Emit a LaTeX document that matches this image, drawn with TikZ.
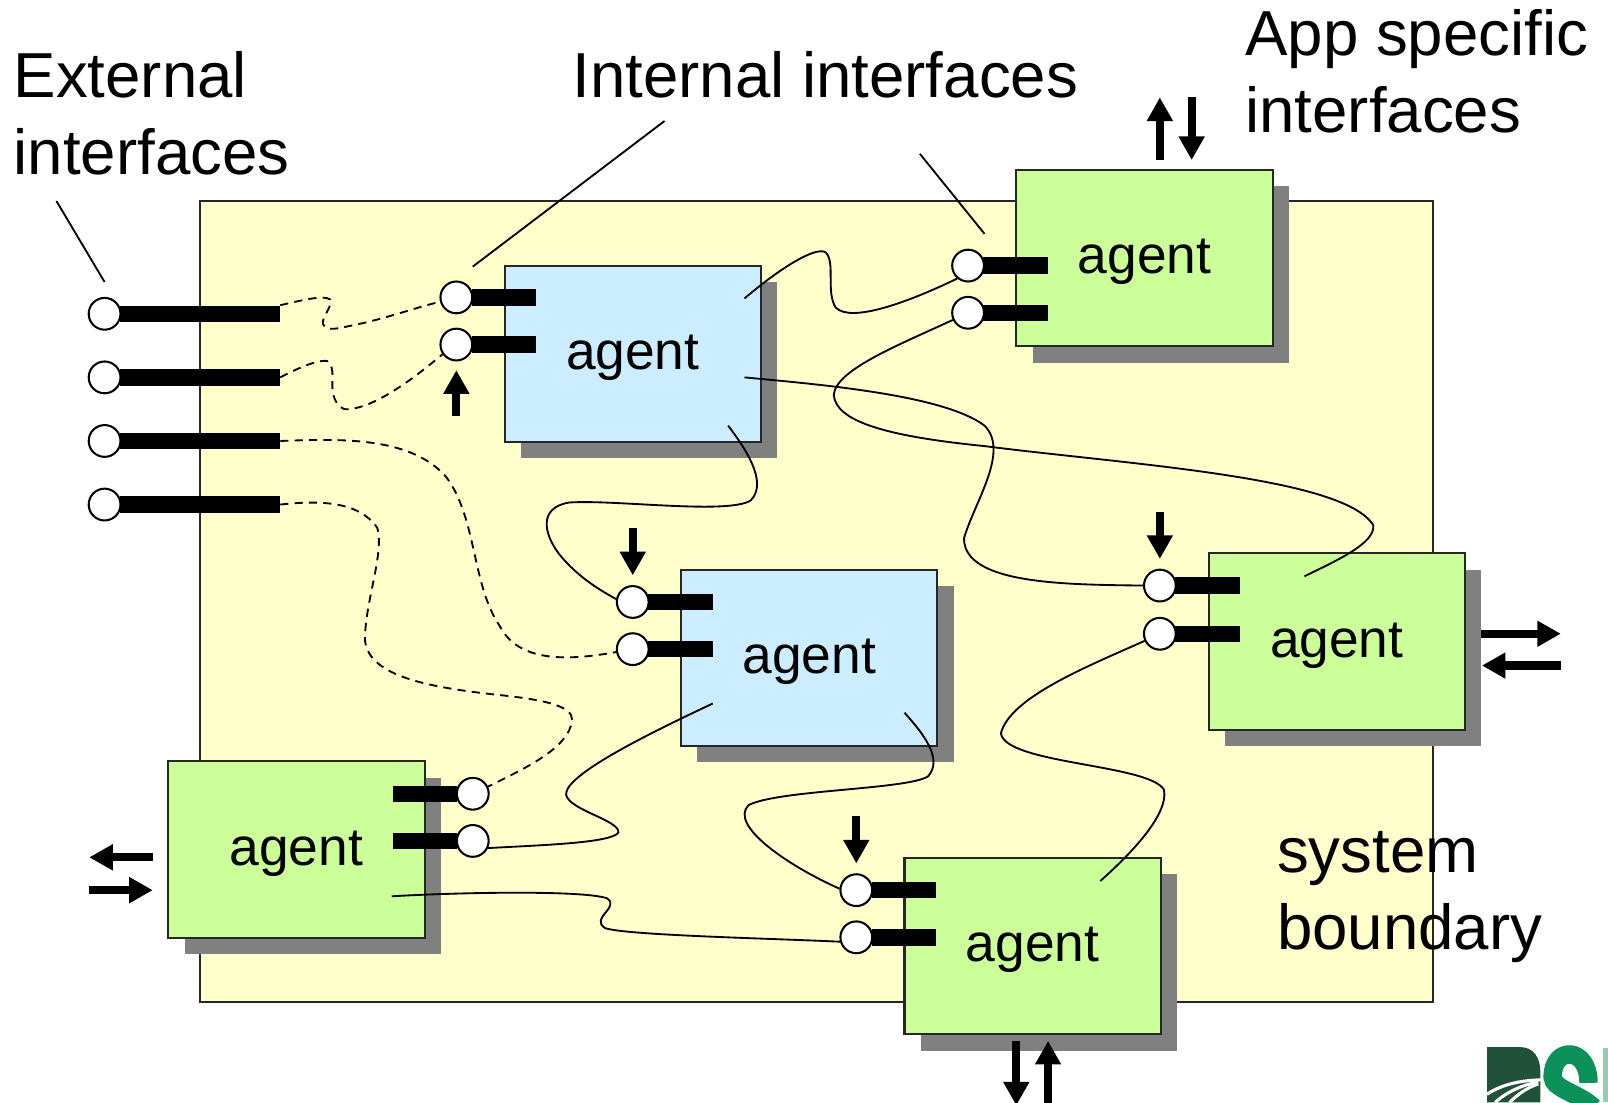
\documentclass[tikz,border=0pt]{standalone}
\usepackage{fontspec}
\setmainfont{Liberation Sans}
\usepackage{xcolor}
\usetikzlibrary{positioning,arrows.meta,shadows}
\definecolor{boundaryfill}{HTML}{FFFFCC}
\definecolor{bluefill}{HTML}{CCECFF}
\definecolor{greenfill}{HTML}{CCFF99}
\definecolor{shadowgray}{HTML}{808080}
\definecolor{logodark}{HTML}{215239}
\definecolor{logogreen}{HTML}{0B9159}
\tikzset{
	agentbox/.style={draw=black!85,line width=1pt,minimum width=125pt,minimum height=86pt,inner sep=0pt,text height=21pt,text depth=5.5pt,font=\fontsize{26}{30}\selectfont,general shadow={fill=shadowgray,shadow xshift=8pt,shadow yshift=-8pt}},
	bluebox/.style={agentbox,fill=bluefill},
	greenbox/.style={agentbox,fill=greenfill},
	port/.style={circle,draw=black,fill=white,line width=1pt,minimum size=15.5pt,inner sep=0pt},
	stub/.style={fill=black,minimum height=8pt,minimum width=31.5pt,inner sep=0pt},
	longstub/.style={stub,minimum width=78pt},
	wire/.style={draw=black,line width=0.9pt},
	extwire/.style={wire,dashed,dash pattern=on 4pt off 3pt},
	flow/.style={draw=black,line width=4pt,-{Triangle[length=11.5pt,width=12pt]}},
	caption/.style={font=\fontsize{31}{37.5}\selectfont,align=left,inner sep=0pt,anchor=north west}
}
\begin{document}
\begin{tikzpicture}[x=0.5pt,y=-0.5pt]
	\useasboundingbox (0,0) rectangle (1568,1075);
	\node[draw=black!85,fill=boundaryfill,line width=1pt,minimum width=601pt,minimum height=390.5pt,inner sep=0pt] (system) at (796,586.5) {};

	\node[bluebox] (agentA) at (617,345) {agent};
	\node[bluebox] (agentB) at (789,641.5) {agent};
	\node[greenbox] (agentC) at (1116,251.5) {agent};
	\node[greenbox] (agentD) at (1303.5,625.5) {agent};
	\node[greenbox] (agentE) at (1007,922.5) {agent};
	\node[greenbox] (agentF) at (289,828.5) {agent};

	\node[port] (ext1) at (102,306) {};
	\node[port] (ext2) at (102,368) {};
	\node[port] (ext3) at (102,430) {};
	\node[port] (ext4) at (102,492) {};
	\node[longstub,right=-1pt of ext1] (ext1s) {};
	\node[longstub,right=-1pt of ext2] (ext2s) {};
	\node[longstub,right=-1pt of ext3] (ext3s) {};
	\node[longstub,right=-1pt of ext4] (ext4s) {};

	\node[port] (a1) at (445,290) {};
	\node[port] (a2) at (445,336) {};
	\node[stub,right=-1pt of a1] (a1s) {};
	\node[stub,right=-1pt of a2] (a2s) {};
	\node[port] (b1) at (617,587) {};
	\node[port] (b2) at (617,633) {};
	\node[stub,right=-1pt of b1] (b1s) {};
	\node[stub,right=-1pt of b2] (b2s) {};
	\node[port] (c1) at (944,259) {};
	\node[port] (c2) at (944,305) {};
	\node[stub,right=-1pt of c1] (c1s) {};
	\node[stub,right=-1pt of c2] (c2s) {};
	\node[port] (d1) at (1131,571) {};
	\node[port] (d2) at (1131,618) {};
	\node[stub,right=-1pt of d1] (d1s) {};
	\node[stub,right=-1pt of d2] (d2s) {};
	\node[port] (e1) at (835,868) {};
	\node[port] (e2) at (835,914) {};
	\node[stub,right=-1pt of e1] (e1s) {};
	\node[stub,right=-1pt of e2] (e2s) {};
	\node[port] (f1) at (461,774) {};
	\node[port] (f2) at (461,820) {};
	\node[stub,left=-1pt of f1] (f1s) {};
	\node[stub,left=-1pt of f2] (f2s) {};

	\coordinate (aOutA) at (726,291);
	\coordinate (aOutB) at (726,368);
	\coordinate (aOutC) at (710,415);
	\coordinate (bOutA) at (695,686);
	\coordinate (bOutB) at (882,695);
	\coordinate (dOut) at (1272,562);
	\coordinate (eOut) at (1073,859);
	\coordinate (fOut) at (382,874);

	\draw[extwire] (ext1s.north east) .. controls (290,294) and (315,287) .. (322,292) .. controls (325,298) and (313,310) .. (315,316) .. controls (318,324) and (330,320) .. (345,317) .. controls (375,311) and (405,300) .. (a1.195);
	\draw[extwire] (ext2s.east) .. controls (298,355) and (312,351) .. (319,352) .. controls (328,358) and (322,375) .. (325,385) .. controls (328,395) and (333,400) .. (340,399) .. controls (365,397) and (400,372) .. (a2.215);
	\draw[extwire] (ext3s.east) .. controls (330,428) and (400,425) .. (435,465) .. controls (465,505) and (460,570) .. (487,610) .. controls (505,645) and (550,645) .. (b2.190);
	\draw[extwire] (ext4s.east) .. controls (310,488) and (350,488) .. (368,515) .. controls (375,540) and (355,590) .. (356,625) .. controls (360,660) and (420,670) .. (480,677) .. controls (530,682) and (558,688) .. (558,702) .. controls (555,730) and (510,750) .. (f1.25);

	\draw[wire] (aOutA) .. controls (760,262) and (795,240) .. (805,246) .. controls (815,255) and (805,285) .. (815,300) .. controls (830,315) and (885,295) .. (c1.230);
	\draw[wire] (c2.205) .. controls (880,335) and (815,360) .. (813,385) .. controls (815,410) and (860,425) .. (960,435) .. controls (1100,453) and (1310,465) .. (1339,512) .. controls (1342,530) and (1300,548) .. (dOut);
	\draw[wire] (aOutB) .. controls (800,375) and (920,385) .. (960,415) .. controls (985,440) and (950,490) .. (940,525) .. controls (940,570) and (1040,570) .. (d1.180);
	\draw[wire] (aOutC) .. controls (725,435) and (750,470) .. (732,488) .. controls (710,502) and (600,487) .. (555,490) .. controls (525,495) and (530,520) .. (545,540) .. controls (565,565) and (590,578) .. (b1.170);
	\draw[wire] (bOutA) .. controls (640,712) and (550,755) .. (552,775) .. controls (555,790) and (605,800) .. (603,812) .. controls (595,822) and (530,824) .. (f2.335);
	\draw[wire] (bOutB) .. controls (900,715) and (920,740) .. (905,757) .. controls (885,770) and (760,770) .. (730,785) .. controls (710,805) and (770,845) .. (e1.175);
	\draw[wire] (fOut) .. controls (450,870) and (570,868) .. (592,876) .. controls (605,885) and (575,895) .. (590,905) .. controls (610,912) and (750,915) .. (e2.195);
	\draw[wire] (eOut) .. controls (1100,835) and (1140,795) .. (1135,770) .. controls (1120,745) and (980,745) .. (976,715) .. controls (985,680) and (1060,650) .. (d2.205);

	\coordinate (extLabel) at (55,196);
	\coordinate (extTip) at (102,275);
	\coordinate (intLabel) at (648,118);
	\coordinate (intTip) at (461,260);
	\coordinate (intLabelB) at (897,150);
	\coordinate (intTipB) at (960,228);
	\draw[wire] (extLabel) -- (extTip);
	\draw[wire] (intLabel) -- (intTip);
	\draw[wire] (intLabelB) -- (intTipB);

	\draw[flow] (445,406) -- (445,361);
	\draw[flow] (617,515) -- (617,561);
	\draw[flow] (1131,499) -- (1131,545);
	\draw[flow] (835,796) -- (835,842);
	\draw[flow] (1131,156) -- (1131,95);
	\draw[flow] (1162,95) -- (1162,156);
	\draw[flow] (1444,618) -- (1522,618);
	\draw[flow] (1522,649) -- (1445,649);
	\draw[flow] (149,836) -- (87,836);
	\draw[flow] (87,868) -- (149,868);
	\draw[flow] (991,1015) -- (991,1078);
	\draw[flow] (1022,1078) -- (1022,1015);

	\node[caption] (externalText) at (13,50) {External\\interfaces};
	\node[caption] (internalText) at (558,50) {Internal interfaces};
	\node[caption] (specificText) at (1214,9) {App specific\\interfaces};
	\node[caption] (systemText) at (1245,810) {system\\boundary};

	\begin{scope}
		\clip (1440,1010) rectangle (1568,1075);
		\fill[logodark] (1450,1021) -- (1482,1021) .. controls (1496,1021) and (1502,1032) .. (1502,1045) -- (1502,1075) -- (1450,1075) -- cycle;
		\draw[white,line width=1.5pt] (1450,1067) .. controls (1465,1057) and (1485,1053) .. (1505,1053);
		\draw[white,line width=1.5pt] (1458,1075) .. controls (1470,1064) and (1485,1058) .. (1500,1055);
		\draw[white,line width=1.5pt] (1472,1075) .. controls (1480,1067) and (1490,1060) .. (1500,1057);
		\draw[logogreen,line width=9pt] (1549,1056) .. controls (1549,1020) and (1514,1020) .. (1514,1050) .. controls (1514,1062) and (1540,1066) .. (1554,1080);
		\fill[logogreen!45!white] (1563,1022) rectangle (1568,1075);
	\end{scope}
\end{tikzpicture}
\end{document}
